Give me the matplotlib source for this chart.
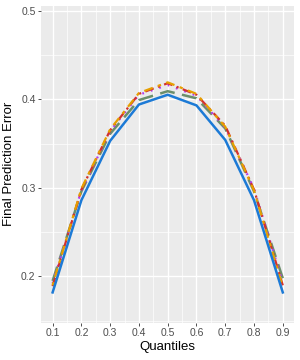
import matplotlib
matplotlib.use("Agg")
import matplotlib.pyplot as plt
from matplotlib.ticker import MultipleLocator

# data
quantiles = [0.1, 0.2, 0.3, 0.4, 0.5, 0.6, 0.7, 0.8, 0.9]
err_blue   = [0.182, 0.286, 0.353, 0.394, 0.405, 0.393, 0.354, 0.286, 0.182]
err_green  = [0.195, 0.296, 0.361, 0.399, 0.409, 0.401, 0.367, 0.296, 0.198]
err_red    = [0.189, 0.298, 0.365, 0.406, 0.418, 0.405, 0.370, 0.298, 0.190]
err_orange = [0.190, 0.299, 0.366, 0.407, 0.419, 0.406, 0.369, 0.297, 0.188]
err_purple = [0.192, 0.297, 0.364, 0.405, 0.416, 0.404, 0.368, 0.299, 0.193]

plt.rcParams['font.family'] = ['Liberation Sans', 'DejaVu Sans']

fig = plt.figure(figsize=(3, 3.6), dpi=100)
ax = fig.add_axes([0.137, 0.104, 0.844, 0.879])
ax.set_facecolor('#EBEBEB')

ax.plot(quantiles, err_green, color='#6B8E6B', lw=1.8, dashes=(6, 3))
ax.plot(quantiles, err_purple, color='#B23AEE', lw=1.6, dashes=(0.8, 3.2))
ax.plot(quantiles, err_red, color='#D2322D', lw=1.6, dashes=(4, 2, 1, 2))
ax.plot(quantiles, err_orange, color='#E69F00', lw=1.6, dashes=(1.5, 2.5, 4, 2.5))
ax.plot(quantiles, err_blue, color='#1C7AD6', lw=1.8)

ax.set_xlim(0.06, 0.94)
ax.set_ylim(0.148, 0.505)
ax.set_xticks(quantiles)
ax.set_xticklabels([f"{q:.1f}" for q in quantiles])
ax.set_yticks([0.2, 0.3, 0.4, 0.5])
ax.set_yticklabels(["0.2", "0.3", "0.4", "0.5"])
ax.xaxis.set_minor_locator(MultipleLocator(0.05))
ax.yaxis.set_minor_locator(MultipleLocator(0.05))

ax.grid(which='major', color='white', lw=1.0)
ax.grid(which='minor', color='white', lw=0.5)
ax.set_axisbelow(True)
for s in ax.spines.values():
    s.set_visible(False)
ax.tick_params(which='major', length=2.5, width=0.6, color='#333333',
               labelsize=7.5, labelcolor='#4D4D4D', pad=1.5)
ax.tick_params(which='minor', length=0)

ax.set_xlabel("Quantiles", fontsize=9.5, labelpad=2)
ax.set_ylabel("Final Prediction Error", fontsize=9.5, labelpad=4)

fig.savefig("out.png", dpi=100)
